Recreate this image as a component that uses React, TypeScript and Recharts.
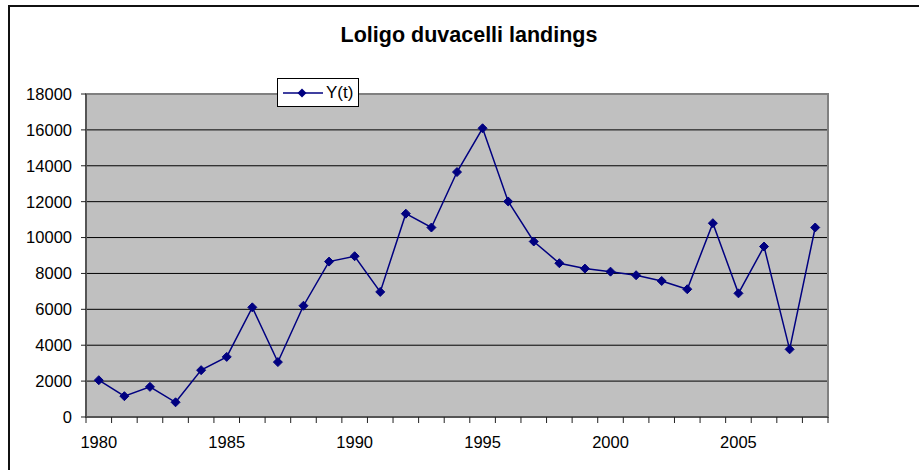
import React from "react";
import { LineChart, Line, XAxis, YAxis, CartesianGrid, ReferenceArea } from "recharts";

// years and landings (t)
const years = [
  1980, 1981, 1982, 1983, 1984, 1985, 1986, 1987, 1988, 1989,
  1990, 1991, 1992, 1993, 1994, 1995, 1996, 1997, 1998, 1999,
  2000, 2001, 2002, 2003, 2004, 2005, 2006, 2007, 2008,
];
const landings = [
  2050, 1160, 1680, 820, 2610, 3350, 6110, 3060, 6200, 8660,
  8960, 6970, 11330, 10560, 13650, 16090, 12010, 9780, 8570, 8270,
  8100, 7900, 7580, 7120, 10800, 6890, 9500, 3770, 10560,
];
const yTicks = [0, 2000, 4000, 6000, 8000, 10000, 12000, 14000, 16000, 18000];
const gridValues = [2000, 4000, 6000, 8000, 10000, 12000, 14000, 16000];
const yearLabels = [1980, 1985, 1990, 1995, 2000, 2005];

const data = years.map((year, i) => ({ year, value: landings[i] }));
// category boundaries, where Excel puts its tick marks
const boundaries = [...years.map((y) => y - 0.5), years[years.length - 1] + 0.5];
const xDomain = [boundaries[0], boundaries[boundaries.length - 1]];

const FONT = "Arial, 'Liberation Sans', sans-serif";
const NAVY = "#000080";

const Diamond = (props: any) => {
  const { cx, cy, index } = props;
  if (cx == null || cy == null) return null;
  const r = 4.5;
  return (
    <path
      key={`d-${index}`}
      d={`M${cx},${cy - r} L${cx + r},${cy} L${cx},${cy + r} L${cx - r},${cy} Z`}
      fill={NAVY}
      stroke={NAVY}
      strokeWidth={1}
    />
  );
};

const NoLabel = () => <g />;

// legend box sits on top of the plot, outside recharts' layout
const LegendBox = () => (
  <div
    style={{
      position: "absolute",
      left: 277,
      top: 78,
      width: 80,
      height: 27,
      border: "1px solid #000",
      background: "#fff",
      display: "flex",
      alignItems: "center",
      fontFamily: FONT,
      fontSize: 17,
      color: "#000",
      zIndex: 2,
    }}
  >
    <svg width={44} height={20} style={{ marginLeft: 4 }}>
      <line x1={1} y1={10} x2={41} y2={10} stroke={NAVY} strokeWidth={1.5} />
      <path d="M20,5.5 L24.5,10 L20,14.5 L15.5,10 Z" fill={NAVY} />
    </svg>
    <span>Y(t)</span>
  </div>
);

export default function App() {
  return (
    <div
      style={{
        position: "absolute",
        left: 0,
        top: 0,
        width: 919,
        height: 470,
        overflow: "hidden",
        background: "#fff",
      }}
    >
      {/* outer chart frame, runs off the picture at right and bottom */}
      <div
        style={{
          position: "absolute",
          left: 8,
          top: 5,
          width: 1000,
          height: 1000,
          border: "2px solid #111",
        }}
      />
      <div
        style={{
          position: "absolute",
          left: 0,
          top: 23,
          width: 938,
          textAlign: "center",
          fontFamily: FONT,
          fontWeight: "bold",
          fontSize: 21.5,
          color: "#000",
        }}
      >
        Loligo duvacelli landings
      </div>
      <div style={{ position: "absolute", left: 0, top: 0 }}>
        <LineChart
          width={919}
          height={470}
          data={data}
          margin={{ top: 94, right: 91, left: 0, bottom: 1 }}
        >
          <CartesianGrid
            vertical={false}
            horizontalValues={gridValues}
            stroke="#000"
            strokeWidth={1}
            fill="#C0C0C0"
            fillOpacity={1}
          />
          <ReferenceArea
            xAxisId="ticks"
            x1={xDomain[0]}
            x2={xDomain[1]}
            y1={0}
            y2={18000}
            fill="none"
            fillOpacity={0}
            stroke="#808080"
            strokeWidth={2}
            ifOverflow="visible"
          />
          <XAxis
            xAxisId="ticks"
            dataKey="year"
            type="number"
            domain={xDomain}
            ticks={boundaries}
            interval={0}
            height={52}
            tick={NoLabel}
            tickSize={6}
            tickLine={{ stroke: "#222" }}
            axisLine={{ stroke: "#555", strokeWidth: 2 }}
          />
          <XAxis
            xAxisId="labels"
            dataKey="year"
            type="number"
            domain={xDomain}
            ticks={yearLabels}
            interval={0}
            height={0.01}
            axisLine={false}
            tickLine={false}
            tickSize={0}
            tickMargin={19}
            tick={{ fill: "#000", fontSize: 16.5, fontFamily: FONT }}
          />
          <YAxis
            domain={[0, 18000]}
            ticks={yTicks}
            interval={0}
            width={86}
            tickSize={5}
            tickMargin={9}
            tickLine={{ stroke: "#222" }}
            axisLine={{ stroke: "#555", strokeWidth: 2 }}
            tick={{ fill: "#000", fontSize: 16.5, fontFamily: FONT }}
          />
          <Line
            xAxisId="ticks"
            dataKey="value"
            name="Y(t)"
            stroke={NAVY}
            strokeWidth={1.5}
            dot={<Diamond />}
            activeDot={false}
            isAnimationActive={false}
          />
        </LineChart>
      </div>
      <LegendBox />
    </div>
  );
}
